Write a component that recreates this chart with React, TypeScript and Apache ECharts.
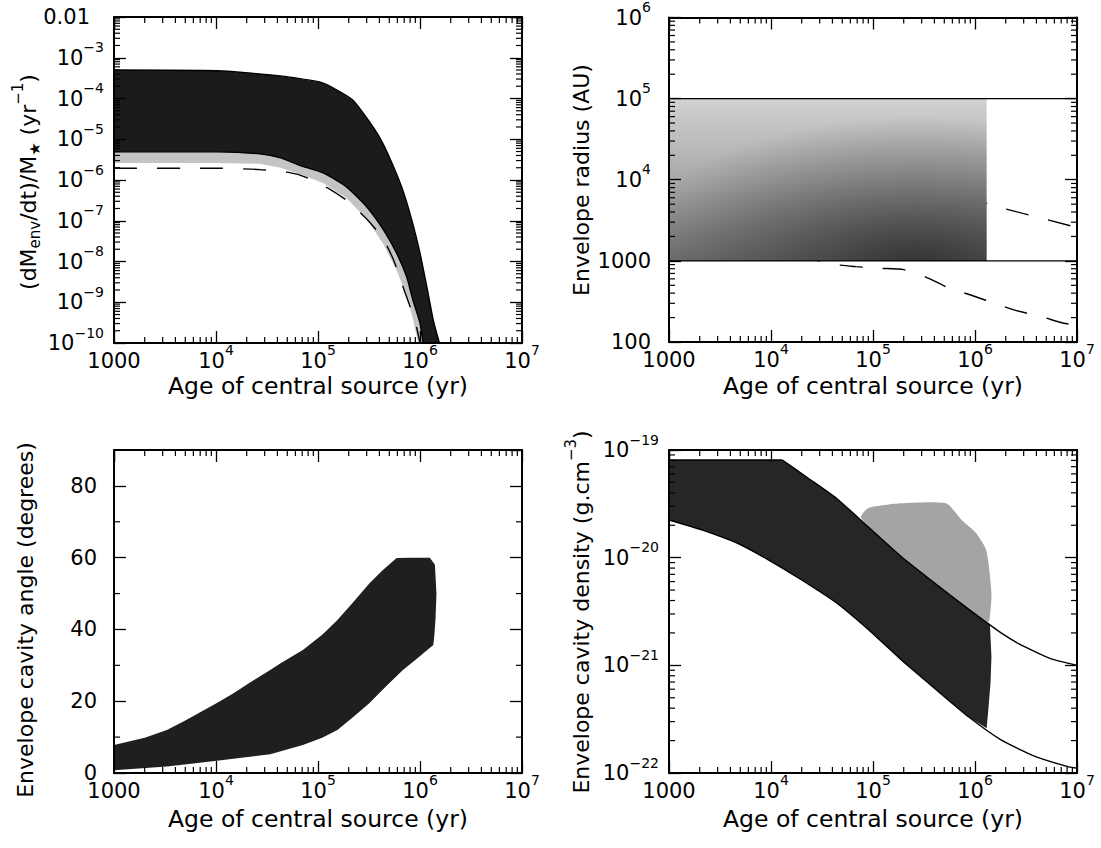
import React, { useEffect, useRef } from 'react';
import * as echarts from 'echarts';

const FONT = '"DejaVu Sans", sans-serif';

// ---------------- tick labels (keyed by decade exponent) ----------------
const ageTickLabels: Record<number, string> = { 3: '1000', 4: '10^4', 5: '10^5', 6: '10^6', 7: '10^7' };
const rateTickLabels: Record<number, string> = {
  [-2]: '0.01', [-3]: '10^−3', [-4]: '10^−4', [-5]: '10^−5', [-6]: '10^−6',
  [-7]: '10^−7', [-8]: '10^−8', [-9]: '10^−9', [-10]: '10^−10',
};
const radiusTickLabels: Record<number, string> = { 2: '100', 3: '1000', 4: '10^4', 5: '10^5', 6: '10^6' };
const densityTickLabels: Record<number, string> = { [-19]: '10^−19', [-20]: '10^−20', [-21]: '10^−21', [-22]: '10^−22' };
const angleTickLabels = ['0', '20', '40', '60', '80'];
const angleMinorTicks = [10, 30, 50, 70];

// ---------------- panel 1: envelope accretion rate (yr^-1) ----------------
const accUpperAge = [1000, 1.02e4, 3.4e4, 6.0e4, 1.05e5, 1.5e5, 2.2e5, 3.1e5, 3.9e5, 4.8e5, 6.6e5, 8.3e5, 1.0e6, 1.17e6, 1.35e6, 1.55e6];
const accUpperRate = [5.0e-4, 4.8e-4, 3.8e-4, 3.2e-4, 2.5e-4, 1.66e-4, 9.1e-5, 3.0e-5, 1.26e-5, 4.6e-6, 6.8e-7, 1.05e-7, 1.6e-8, 2.3e-9, 3.6e-10, 1e-10];
const accLowerAge = [1000, 1.02e4, 2.7e4, 4.3e4, 6.6e4, 1.12e5, 1.9e5, 3.0e5, 4.4e5, 5.9e5, 7.4e5, 8.5e5, 1.0e6, 1.07e6];
const accLowerRate = [4.9e-6, 4.9e-6, 4.4e-6, 3.5e-6, 2.3e-6, 1.5e-6, 6.8e-7, 2.2e-7, 5.9e-8, 1.6e-8, 4.2e-9, 1.15e-9, 3.1e-10, 1e-10];
const accSparseAge = [1000, 1.02e4, 2.7e4, 4.3e4, 6.6e4, 1.12e5, 1.9e5, 3.0e5, 4.4e5, 5.9e5, 7.4e5, 8.5e5, 9.6e5];
const accSparseRate = [2.6e-6, 2.6e-6, 2.5e-6, 2.0e-6, 1.4e-6, 8.5e-7, 3.6e-7, 1.1e-7, 2.6e-8, 6.0e-9, 1.5e-9, 4.0e-10, 1e-10];
const accDashAge = [1000, 1.02e4, 2.7e4, 5.4e4, 7.4e4, 1.3e5, 2.0e5, 3.0e5, 4.3e5, 5.5e5, 6.6e5, 7.9e5, 9.3e5, 1.0e6];
const accDashRate = [1.95e-6, 1.95e-6, 1.8e-6, 1.5e-6, 1.2e-6, 6.0e-7, 2.9e-7, 1.1e-7, 3.8e-8, 1.1e-8, 3.0e-9, 8.5e-10, 2.3e-10, 1e-10];

// ---------------- panel 2: envelope radius (AU) ----------------
const radCloudAge = [1000, 1.3e6, 1.3e6, 1000];
const radCloudR = [1e5, 1e5, 1000, 1000];
const radLimitAge = [1000, 1e7];
const radOuterLimit = [1e5, 1e5];
const radInnerLimit = [1000, 1000];
const radDashHiAge = [1000, 1e4, 1e5, 4e5, 1.72e6, 8.7e6, 1e7];
const radDashHiR = [2.24e4, 2.0e4, 1.3e4, 8.0e3, 4.6e3, 2.7e3, 2.5e3];
const radDashLoAge = [1000, 1e4, 3.0e4, 3.9e4, 6.8e4, 1.15e5, 2.0e5, 3.3e5, 5.6e5, 9.1e5, 1.55e6, 2.5e6, 4.5e6, 7.4e6, 1e7];
const radDashLoR = [1400, 1200, 1000, 910, 850, 810, 780, 630, 460, 380, 300, 245, 205, 170, 162];

// ---------------- panel 3: cavity opening angle (degrees) ----------------
const angUpperAge = [1000, 2.0e3, 3.3e3, 5.0e3, 1.02e4, 1.5e4, 2.1e4, 3.4e4, 4.3e4, 7.1e4, 1.1e5, 1.55e5, 2.2e5, 3.2e5, 4.3e5, 5.9e5, 8.0e5, 1.25e6];
const angUpper = [7.8, 9.8, 12.0, 14.6, 19.5, 22.3, 25.0, 28.7, 30.6, 34.3, 38.5, 42.6, 47.5, 52.9, 56.5, 59.9, 60, 60];
const angEdgeAge = [1.4e6, 1.45e6, 1.42e6, 1.38e6];
const angEdge = [58, 50, 43, 38];
const angLowerAge = [1000, 3.3e3, 1.02e4, 3.4e4, 7.1e4, 1.1e5, 1.55e5, 2.2e5, 3.2e5, 4.6e5, 6.8e5, 9.3e5, 1.35e6];
const angLower = [0.8, 1.8, 3.4, 5.2, 7.8, 9.8, 12.0, 15.5, 19.5, 24.0, 28.7, 31.8, 35.7];

// ---------------- panel 4: cavity density (g cm^-3) ----------------
const denUpperAge = [1000, 1.29e4, 2.3e4, 4.4e4, 9.1e4, 1.9e5, 4.2e5, 8.7e5, 1.29e6, 1.8e6, 2.7e6, 4.0e6, 5.6e6, 1e7];
const denUpper = [8.07e-20, 8.07e-20, 5.5e-20, 3.55e-20, 1.91e-20, 1.02e-20, 5.62e-21, 3.31e-21, 2.51e-21, 2.0e-21, 1.58e-21, 1.32e-21, 1.15e-21, 1.0e-21];
const denLowerAge = [1000, 2.1e3, 4.6e3, 9.5e3, 2.0e4, 4.4e4, 9.1e4, 1.9e5, 4.2e5, 8.7e5, 1.8e6, 4.0e6, 8.3e6, 1e7];
const denLower = [2.24e-20, 1.81e-20, 1.37e-20, 9.5e-21, 6.2e-21, 3.79e-21, 2.13e-21, 1.12e-21, 5.9e-22, 3.31e-22, 2.03e-22, 1.41e-22, 1.14e-22, 1.11e-22];
const denEdgeAge = [1.4e6, 1.45e6, 1.42e6, 1.35e6, 1.3e6];
const denEdge = [2.4e-21, 1.2e-21, 6.9e-22, 3.85e-22, 2.6e-22];
const denSparseAge = [7.6e4, 9.1e4, 1.9e5, 5.2e5, 7.4e5, 1.02e6, 1.29e6, 1.45e6, 1.38e6];
const denSparse = [2.4e-20, 2.9e-20, 3.2e-20, 3.2e-20, 2.24e-20, 1.7e-20, 1.17e-20, 4.7e-21, 2.6e-21];
// ECharts' log axis loses precision below ~1e-20, so the density axis is plotted in units of 1e-22 g cm^-3
const DEN_UNIT = 1e-22;
const DEN_UNIT_EXP = -22;

// ---------------- helpers ----------------
const rich = {
  b: { fontFamily: FONT, fontSize: 21, color: '#000', lineHeight: 28, verticalAlign: 'bottom' },
  p: { fontFamily: FONT, fontSize: 21, color: '#000', lineHeight: 28, verticalAlign: 'bottom', padding: [0, 14, 0, 0] },
  s: { fontFamily: FONT, fontSize: 14, color: '#000', lineHeight: 8, verticalAlign: 'top' },
};
function toRich(label: string) {
  if (label === '0.01') return '{p|0.01}';
  const i = label.indexOf('^');
  if (i < 0) return `{b|${label}}`;
  return `{b|${label.slice(0, i)}}{s|${label.slice(i + 1)}}`;
}
const decadeLabel = (map: Record<number, string>, offset = 0) => (v: number) => {
  const e = Math.round(Math.log10(v)) + offset;
  return map[e] !== undefined ? toRich(map[e]) : '';
};
function logMinor(lo: number, hi: number) {
  const out: number[] = [];
  for (let e = lo; e < hi; e++) for (let m = 2; m <= 9; m++) out.push(m * Math.pow(10, e));
  return out;
}
const rev = (a: number[]) => [...a].reverse();

const lineStyleAxis = { color: '#000', width: 2 };
const tickStyle = { color: '#000', width: 1.3 };

function xAxes(gi: number) {
  const base = {
    type: 'log', logBase: 10, gridIndex: gi, min: 1000, max: 1e7, z: 30,
    axisLine: { show: true, onZero: false, lineStyle: lineStyleAxis },
    axisTick: { show: true, inside: true, length: 12, lineStyle: tickStyle },
    splitLine: { show: false },
    minorTick: { show: false },
  };
  return [
    { ...base, position: 'bottom', axisLabel: { show: true, margin: 0, formatter: decadeLabel(ageTickLabels), rich } },
    { ...base, position: 'top', axisLabel: { show: false } },
  ];
}
function yAxes(gi: number, cfg: any, labelCfg: any) {
  const base = {
    gridIndex: gi, ...cfg, z: 30,
    axisLine: { show: true, onZero: false, lineStyle: lineStyleAxis },
    axisTick: { show: true, inside: true, length: 12, lineStyle: tickStyle },
    splitLine: { show: false },
    minorTick: { show: false },
  };
  return [
    { ...base, position: 'left', axisLabel: { show: true, rich, padding: [0, 0, 7, 0], ...labelCfg } },
    { ...base, position: 'right', axisLabel: { show: false } },
  ];
}

function polySeries(gi: number, xs: number[], ys: number[], fill: any, z: number, smooth = 0) {
  return {
    type: 'custom', coordinateSystem: 'cartesian2d', xAxisIndex: 2 * gi, yAxisIndex: 2 * gi,
    data: [[xs[0], ys[0]]], z, silent: true, clip: true,
    renderItem: (_p: any, api: any) => ({
      type: 'polygon',
      shape: { points: xs.map((x, i) => api.coord([x, ys[i]])), smooth },
      style: { fill, stroke: null },
    }),
  };
}
function lineSeries(gi: number, xs: number[], ys: number[], dashed: boolean, z: number, smooth = 0.2) {
  return {
    type: 'line', xAxisIndex: 2 * gi, yAxisIndex: 2 * gi,
    data: xs.map((x, i) => [x, ys[i]]),
    showSymbol: false, symbol: 'none', smooth, silent: true, clip: true, z,
    lineStyle: { color: '#000', width: 1.4, type: dashed ? [23, 20] : 'solid' },
  };
}
function tickSeries(gi: number, xMinor: number[], yMinor: number[], xRef: number, yRef: number) {
  return {
    type: 'custom', coordinateSystem: 'cartesian2d', xAxisIndex: 2 * gi, yAxisIndex: 2 * gi,
    data: [[xRef, yRef]], z: 20, silent: true, clip: false,
    renderItem: (params: any, api: any) => {
      const cs = params.coordSys;
      const L = 6;
      const st = { stroke: '#000', lineWidth: 1.2 };
      const children: any[] = [];
      xMinor.forEach((v) => {
        const x = api.coord([v, yRef])[0];
        children.push({ type: 'line', shape: { x1: x, y1: cs.y + cs.height, x2: x, y2: cs.y + cs.height - L }, style: st });
        children.push({ type: 'line', shape: { x1: x, y1: cs.y, x2: x, y2: cs.y + L }, style: st });
      });
      yMinor.forEach((v) => {
        const y = api.coord([xRef, v])[1];
        children.push({ type: 'line', shape: { x1: cs.x, y1: y, x2: cs.x + L, y2: y }, style: st });
        children.push({ type: 'line', shape: { x1: cs.x + cs.width, y1: y, x2: cs.x + cs.width - L, y2: y }, style: st });
      });
      return { type: 'group', children };
    },
  };
}

const titleRich = {
  t: { fontFamily: FONT, fontSize: 22, color: '#000', lineHeight: 36, verticalAlign: 'middle' },
  x: { fontFamily: FONT, fontSize: 23.5, color: '#000', lineHeight: 24, verticalAlign: 'middle' },
  u: { fontFamily: FONT, fontSize: 15, color: '#000', lineHeight: 4, verticalAlign: 'top' },
  d: { fontFamily: FONT, fontSize: 15, color: '#000', lineHeight: 4, verticalAlign: 'bottom', padding: [0, 0, 4, 0] },
};
function title(text: string, x: number, y: number, rotated: boolean) {
  return {
    type: 'text', x, y, rotation: rotated ? Math.PI / 2 : 0, silent: true,
    style: { text, rich: titleRich, align: 'center', verticalAlign: 'middle', fill: '#000', fontFamily: FONT, fontSize: 22 },
  };
}

export default function App() {
  const ref = useRef<HTMLDivElement>(null);
  useEffect(() => {
    if (!ref.current) return;
    const chart = echarts.init(ref.current, undefined, { renderer: 'svg' });

    const ageMinor = logMinor(3, 7);

    const p1x = [...accUpperAge, ...rev(accLowerAge)];
    const p1y = [...accUpperRate, ...rev(accLowerRate)];
    const p1sx = [...accLowerAge, ...rev(accSparseAge)];
    const p1sy = [...accLowerRate, ...rev(accSparseRate)];

    const p3x = [...angUpperAge, ...angEdgeAge, ...rev(angLowerAge)];
    const p3y = [...angUpper, ...angEdge, ...rev(angLower)];

    const d = (a: number[]) => a.map((v) => v / DEN_UNIT);
    const upTo = denUpperAge.filter((a) => a <= 1.29e6).length;
    const loTo = denLowerAge.filter((a) => a < 1.3e6).length;
    const p4x = [...denUpperAge.slice(0, upTo), ...denEdgeAge, ...rev(denLowerAge.slice(0, loTo))];
    const p4y = d([...denUpper.slice(0, upTo), ...denEdge, ...rev(denLower.slice(0, loTo))]);
    const spFrom = denUpperAge.findIndex((a) => a >= 9e4);
    const p4sx = [...denSparseAge, ...rev(denUpperAge.slice(spFrom, upTo))];
    const p4sy = d([...denSparse, ...rev(denUpper.slice(spFrom, upTo))]);
    // the density upper limit has a flat plateau followed by a smooth decline
    const plateau = 2;

    const radFill = new echarts.graphic.LinearGradient(0, 0, 0, 1, [
      { offset: 0, color: '#d2d2d2' },
      { offset: 0.5, color: '#a8a8a8' },
      { offset: 1, color: '#747474' },
    ]);
    const radCore = new echarts.graphic.RadialGradient(0.78, 1.0, 0.9, [
      { offset: 0, color: 'rgba(0,0,0,0.55)' },
      { offset: 1, color: 'rgba(0,0,0,0)' },
    ]);

    const option: any = {
      animation: false,
      backgroundColor: '#fff',
      grid: [
        { left: 114, top: 17, width: 408, height: 326 },
        { left: 669, top: 17, width: 408, height: 325 },
        { left: 114, top: 450, width: 408, height: 323 },
        { left: 669, top: 450, width: 408, height: 323 },
      ],
      xAxis: [...xAxes(0), ...xAxes(1), ...xAxes(2), ...xAxes(3)],
      yAxis: [
        ...yAxes(0, { type: 'log', logBase: 10, min: 1e-10, max: 1e-2 }, { margin: 10, formatter: decadeLabel(rateTickLabels) }),
        ...yAxes(1, { type: 'log', logBase: 10, min: 100, max: 1e6 }, { margin: 18, formatter: decadeLabel(radiusTickLabels) }),
        ...yAxes(2, { type: 'value', min: 0, max: 90, interval: 20 }, {
          margin: 17, showMaxLabel: false,
          formatter: (v: number) => (angleTickLabels.includes(String(v)) ? `{b|${v}}` : ''),
        }),
        ...yAxes(3, { type: 'log', logBase: 10, min: 1e-22 / DEN_UNIT, max: 1e-19 / DEN_UNIT }, {
          margin: 10, formatter: decadeLabel(densityTickLabels, DEN_UNIT_EXP),
        }),
      ],
      series: [
        // panel 1
        polySeries(0, p1sx, p1sy, '#c4c4c4', 1),
        polySeries(0, p1x, p1y, '#1b1b1b', 2),
        lineSeries(0, accDashAge, accDashRate, true, 3),
        lineSeries(0, accUpperAge, accUpperRate, false, 4),
        lineSeries(0, accLowerAge, accLowerRate, false, 4),
        tickSeries(0, ageMinor, logMinor(-10, -2), 1000, 1e-10),
        // panel 2
        lineSeries(1, radDashHiAge, radDashHiR, true, 1),
        lineSeries(1, radDashLoAge, radDashLoR, true, 1),
        polySeries(1, radCloudAge, radCloudR, radFill, 2),
        polySeries(1, radCloudAge, radCloudR, radCore, 3),
        lineSeries(1, radLimitAge, radOuterLimit, false, 4, 0),
        lineSeries(1, radLimitAge, radInnerLimit, false, 4, 0),
        tickSeries(1, ageMinor, logMinor(2, 6), 1000, 100),
        // panel 3
        polySeries(2, p3x, p3y, '#1f1f1f', 2),
        tickSeries(2, ageMinor, angleMinorTicks, 1000, 0),
        // panel 4
        polySeries(3, p4sx, p4sy, '#a4a4a4', 1, 0.2),
        polySeries(3, p4x, p4y, '#262626', 2),
        lineSeries(3, denUpperAge.slice(0, plateau), d(denUpper.slice(0, plateau)), false, 4, 0),
        lineSeries(3, denUpperAge.slice(plateau - 1), d(denUpper.slice(plateau - 1)), false, 4),
        lineSeries(3, denLowerAge, d(denLower), false, 4),
        tickSeries(3, ageMinor, logMinor(0, 3), 1000, 1),
      ],
      graphic: [
        title('{x|Age of central source (yr)}', 318, 386, false),
        title('{x|Age of central source (yr)}', 873, 386, false),
        title('{x|Age of central source (yr)}', 318, 819, false),
        title('{x|Age of central source (yr)}', 873, 819, false),
        title('{t|(dM}{d|env}{t|/dt)/M}{d|★}{t| (yr}{u|−1}{t|)}', 28, 182, true),
        title('{t|Envelope radius (AU)}', 581, 180, true),
        title('{t|Envelope cavity angle (degrees)}', 25, 620, true),
        title('{t|Envelope cavity density (g.cm}{u|−3}{t|)}', 581, 612, true),
      ],
    };
    chart.setOption(option);
    return () => chart.dispose();
  }, []);
  return <div ref={ref} style={{ position: 'absolute', left: 0, top: 0, width: 1101, height: 848 }} />;
}
